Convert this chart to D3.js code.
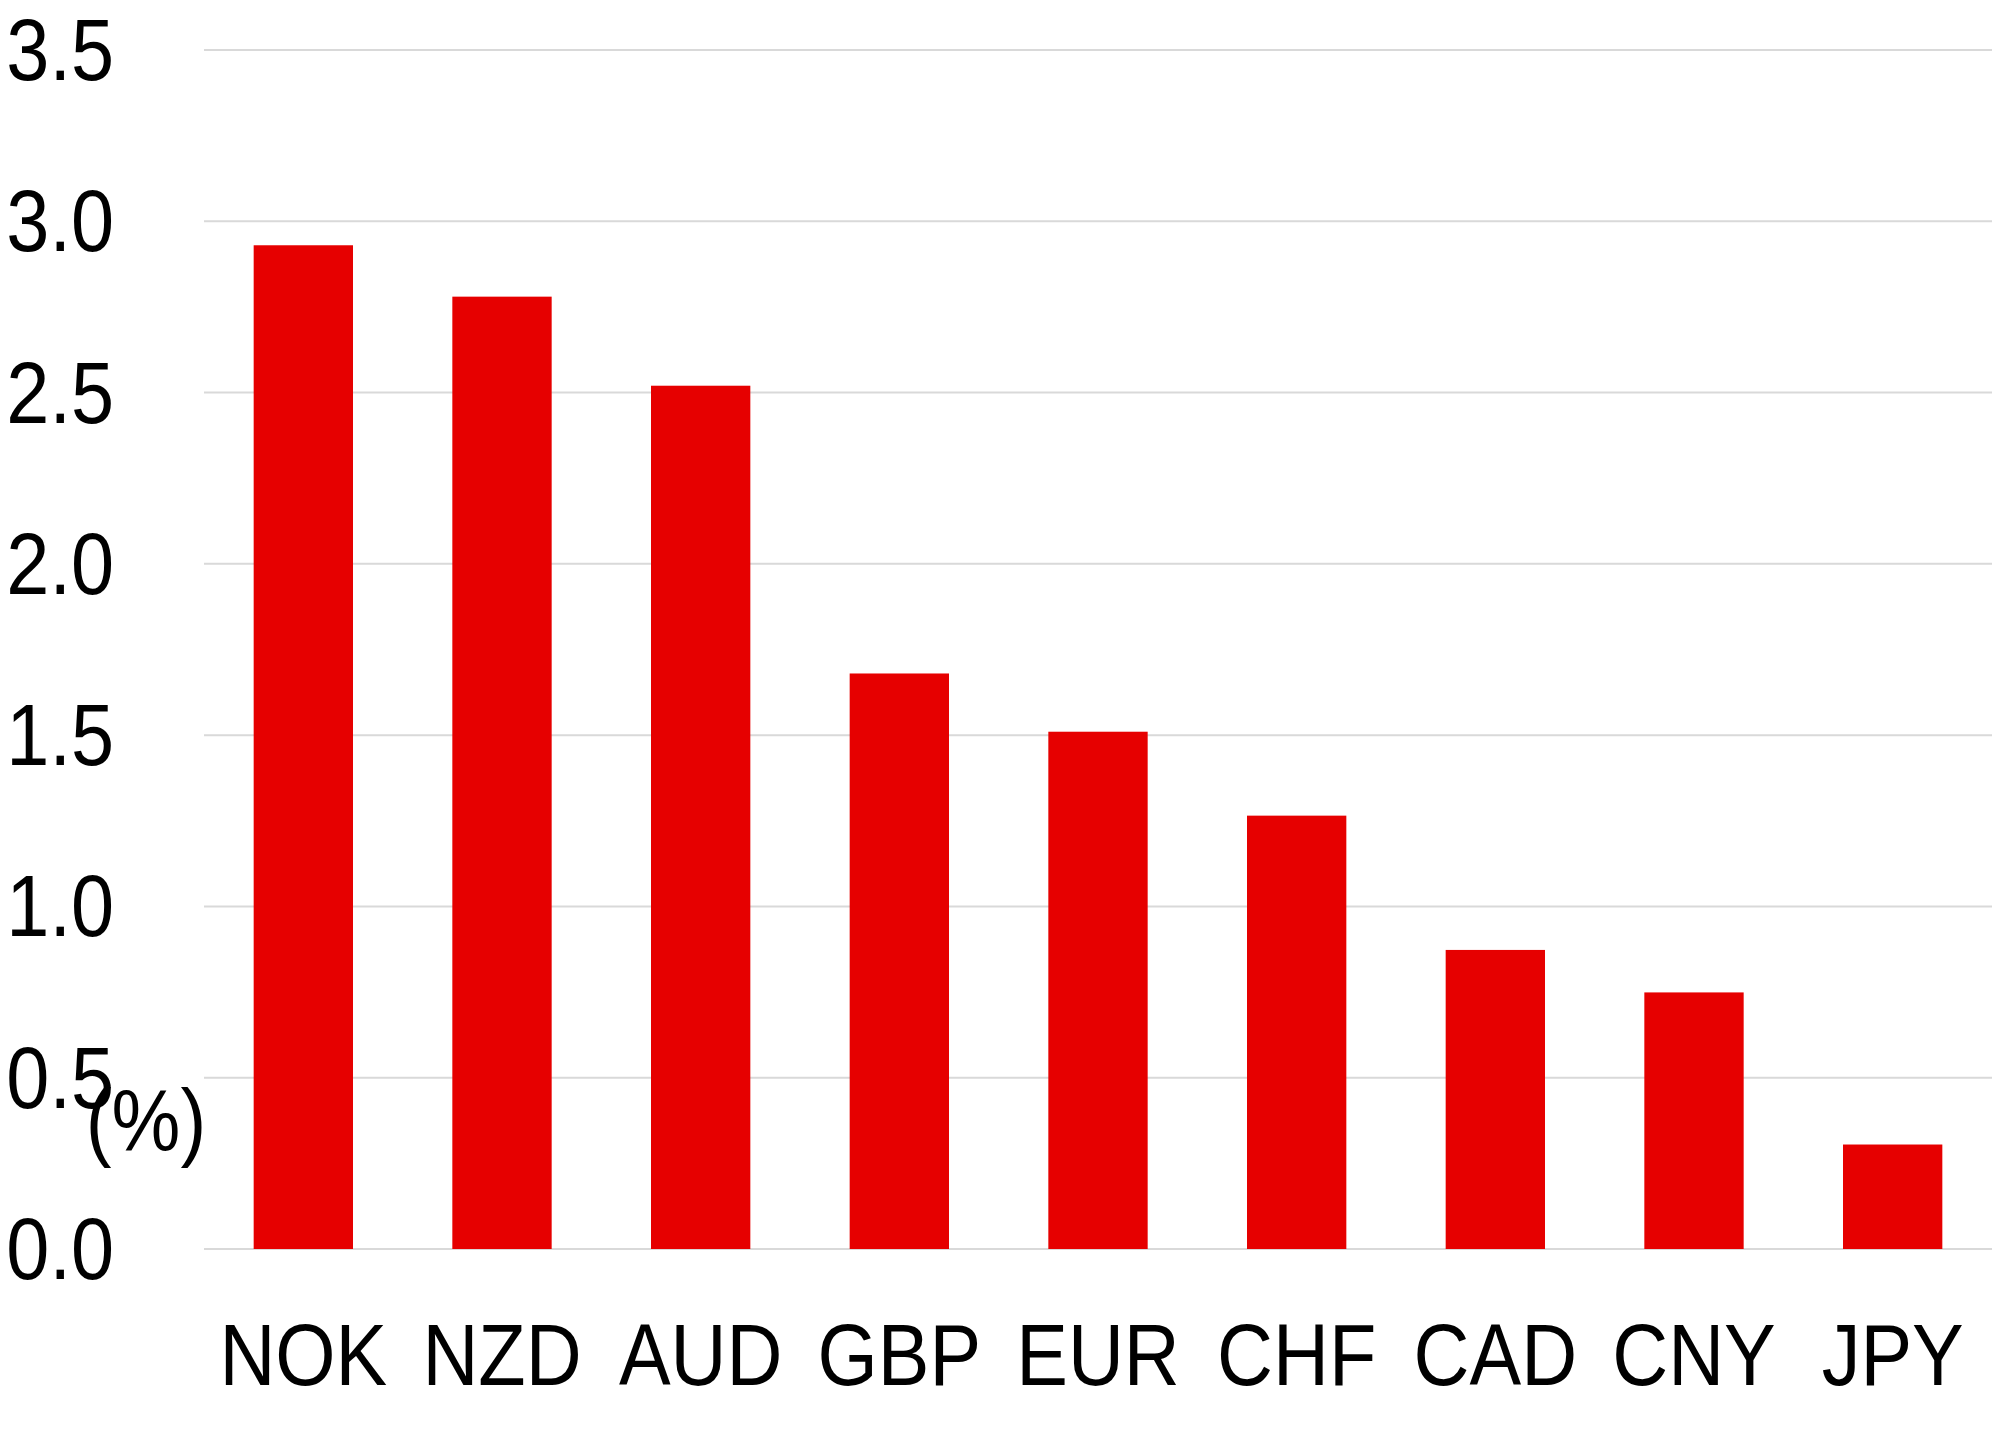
<!DOCTYPE html>
<html>
<head>
<meta charset="utf-8">
<script src="https://cdn.jsdelivr.net/npm/d3@7"></script>
<style>
  html, body { margin: 0; padding: 0; background: #fff; }
  svg { display: block; }
  text { font-family: "Liberation Sans", Arial, sans-serif; fill: #000; }
</style>
</head>
<body>
<svg id="chart" width="1992" height="1450"></svg>
<script>
const categories = ["NOK", "NZD", "AUD", "GBP", "EUR", "CHF", "CAD", "CNY", "JPY"];
const values = [2.93, 2.78, 2.52, 1.68, 1.51, 1.265, 0.873, 0.749, 0.305];
const yTicks = [0.0, 0.5, 1.0, 1.5, 2.0, 2.5, 3.0, 3.5];
const yLabel = "(%)";

(function () {
  const plotLeft = 204, plotRight = 1992, plotTop = 50, plotBottom = 1249;
  const fontSize = 88;
  const squeeze = 0.88;

  const svg = d3.select("#chart");

  const x = d3.scaleBand().domain(categories).range([plotLeft, plotRight])
    .paddingInner(0.5).paddingOuter(0.25);
  const y = d3.scaleLinear().domain([0, 3.5]).range([plotBottom, plotTop]);

  // gridlines
  svg.append("g").selectAll("line").data(yTicks).join("line")
    .attr("x1", plotLeft).attr("x2", plotRight)
    .attr("y1", d => y(d)).attr("y2", d => y(d))
    .attr("stroke", "#d9d9d9").attr("stroke-width", 2);

  // bars
  svg.append("g").selectAll("rect").data(categories).join("rect")
    .attr("x", d => x(d))
    .attr("width", x.bandwidth())
    .attr("y", (d, i) => y(values[i]))
    .attr("height", (d, i) => y(0) - y(values[i]))
    .attr("fill", "#e60000");

  // y tick labels
  svg.append("g").selectAll("text").data(yTicks).join("text")
    .attr("transform", d => `translate(114,${y(d) + 30}) scale(${squeeze},1)`)
    .attr("text-anchor", "end")
    .attr("font-size", fontSize)
    .text(d => d.toFixed(1));

  // x labels
  svg.append("g").selectAll("text").data(categories).join("text")
    .attr("transform", d => `translate(${x(d) + x.bandwidth() / 2},1385) scale(${squeeze},1)`)
    .attr("text-anchor", "middle")
    .attr("font-size", fontSize)
    .text(d => d);

  // unit label
  svg.append("text")
    .attr("transform", `translate(146,1150) scale(${squeeze},1)`)
    .attr("text-anchor", "middle")
    .attr("font-size", fontSize)
    .text(yLabel);
})();
</script>
</body>
</html>
